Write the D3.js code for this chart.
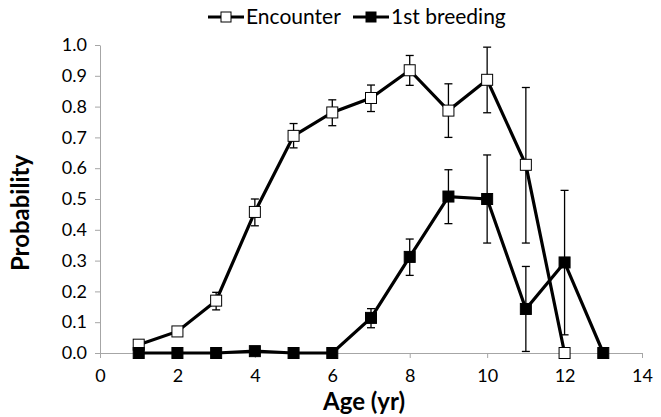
<!DOCTYPE html>
<html>
<head>
<meta charset="utf-8">
<script src="https://cdn.jsdelivr.net/npm/d3@7"></script>
<style>
body{margin:0;background:#fff;}
text{font-family:Lato,"Open Sans",sans-serif;}
</style>
</head>
<body>
<svg width="661" height="417"></svg>
<script>
// values
const ages=[1,2,3,4,5,6,7,8,9,10,11,12,13];
const encounter=[0.027,0.07,0.17,0.458,0.705,0.781,0.828,0.918,0.787,0.887,0.611,0.0];
const encounterLo=[0.02,0.06,0.14,0.413,0.666,0.738,0.784,0.869,0.70,0.78,0.357,0.0];
const encounterHi=[0.035,0.08,0.197,0.50,0.745,0.822,0.87,0.966,0.874,0.993,0.862,0.0];
const breeding=[0,0,0,0.006,0,0,0.114,0.312,0.508,0.50,0.143,0.294,0];
const breedingLo=[0,0,0,0,0,0,0.082,0.252,0.42,0.357,0.005,0.059,0];
const breedingHi=[0,0,0,0.01,0,0,0.144,0.37,0.595,0.643,0.281,0.528,0];
const xTicks=[0,2,4,6,8,10,12,14];
const yTicks=[0,0.1,0.2,0.3,0.4,0.5,0.6,0.7,0.8,0.9,1.0];
const seriesNames=["Encounter","1st breeding"];

const svg=d3.select("svg");
const x=d3.scaleLinear().domain([0,14]).range([100,642]);
const y=d3.scaleLinear().domain([0,1]).range([353,45]);
const grey="#a6a6a6";

// axes
const yAxis=svg.append("g").attr("transform","translate(100,0)")
    .call(d3.axisLeft(y).tickValues(yTicks).tickFormat(d3.format(".1f")).tickSize(5).tickSizeOuter(0));
const xAxis=svg.append("g").attr("transform",`translate(0,${y(0)})`)
    .call(d3.axisBottom(x).tickValues(xTicks).tickSize(5).tickSizeOuter(0));
[xAxis,yAxis].forEach(g=>{
    g.select(".domain").attr("stroke",grey);
    g.selectAll(".tick line").attr("stroke",grey);
    g.selectAll(".tick text").attr("font-size",18).attr("fill","#000")
        .attr("font-family","Lato,'Open Sans',sans-serif");
});
yAxis.selectAll(".tick text").attr("x",-13);
xAxis.selectAll(".tick text").attr("y",16);

const series=[
    {name:seriesNames[0],v:encounter,lo:encounterLo,hi:encounterHi,fill:"#fff"},
    {name:seriesNames[1],v:breeding,lo:breedingLo,hi:breedingHi,fill:"#000"}
];

const line=d3.line().x(d=>x(d.a)).y(d=>y(d.v));

series.forEach(s=>{
    const pts=s.v.map((v,i)=>({a:ages[i],v,lo:s.lo[i],hi:s.hi[i]}));
    const g=svg.append("g");
    // error bars
    const eb=g.selectAll("g.eb").data(pts.filter(d=>d.hi-d.lo>0.001)).enter().append("g");
    eb.append("line").attr("x1",d=>x(d.a)).attr("x2",d=>x(d.a))
        .attr("y1",d=>y(d.lo)).attr("y2",d=>y(d.hi)).attr("stroke","#000").attr("stroke-width",1.3);
    ["lo","hi"].forEach(k=>{
        eb.append("line").attr("x1",d=>x(d.a)-4).attr("x2",d=>x(d.a)+4)
            .attr("y1",d=>y(d[k])).attr("y2",d=>y(d[k])).attr("stroke","#000").attr("stroke-width",1.3);
    });
    g.append("path").attr("d",line(pts)).attr("fill","none").attr("stroke","#000").attr("stroke-width",3.2);
    g.selectAll("rect").data(pts).enter().append("rect")
        .attr("x",d=>x(d.a)-5.5).attr("y",d=>y(d.v)-5.5).attr("width",11).attr("height",11)
        .attr("fill",s.fill).attr("stroke","#000").attr("stroke-width",1);
});

// axis titles
svg.append("text").attr("x",364).attr("y",410).attr("text-anchor","middle")
    .attr("font-size",24).attr("font-weight","bold").text("Age (yr)");
svg.append("text").attr("transform","translate(29,213) rotate(-90)").attr("text-anchor","middle")
    .attr("font-size",24).attr("font-weight","bold").text("Probability");

// legend
const legendX=[208,353];
const lg=svg.append("g");
series.forEach((s,i)=>{
    const lx=legendX[i];
    lg.append("line").attr("x1",lx).attr("x2",lx+36).attr("y1",17).attr("y2",17)
        .attr("stroke","#000").attr("stroke-width",3);
    lg.append("rect").attr("x",lx+13).attr("y",12).attr("width",10).attr("height",10)
        .attr("fill",s.fill).attr("stroke","#000").attr("stroke-width",1);
    lg.append("text").attr("x",lx+38).attr("y",24).attr("font-size",21).text(s.name);
});
</script>
</body>
</html>
